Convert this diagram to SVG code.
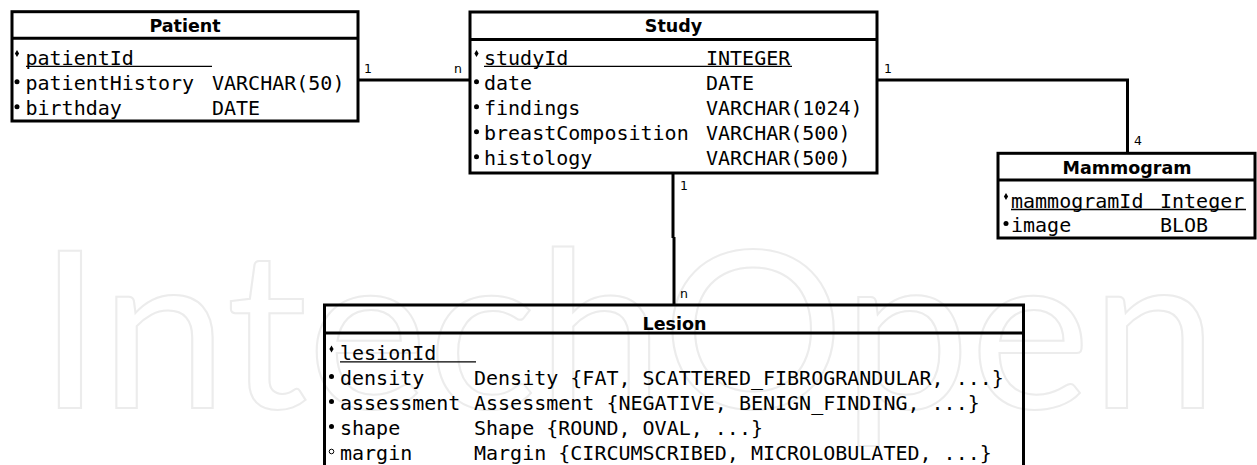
<svg xmlns="http://www.w3.org/2000/svg" xmlns:xlink="http://www.w3.org/1999/xlink" width="1257" height="465" viewBox="0 0 1257 465">
<style>
.box{fill:none;stroke:#000;stroke-width:3}
.sep{stroke:#000;stroke-width:3}
.hdr{font-family:"DejaVu Sans",sans-serif;font-weight:bold;font-size:17.5px;text-anchor:middle;fill:#000}
.att{font-family:"DejaVu Sans Mono",monospace;font-size:20px;fill:#000}
.ul{stroke:#000;stroke-width:1.3}
.dot{fill:#000}
.odot{fill:none;stroke:#000;stroke-width:1}
.conn{fill:none;stroke:#000;stroke-width:3}
.lbl{font-family:"DejaVu Sans",sans-serif;font-size:12.5px;fill:#000}
.wm{font-family:Lato,"DejaVu Sans",sans-serif;font-size:219px;fill:none;stroke:#ececec;stroke-width:2}
</style>
<defs>
<path id="dia" d="M0,-3.4 L2.1,0 L0,3.4 L-2.1,0Z" fill="#000"/>
</defs>
<rect width="1257" height="465" fill="#fff"/>
<text class="wm" x="38" y="408" textLength="1180" lengthAdjust="spacingAndGlyphs">IntechOpen</text>

<g id="connectors">
<path class="conn" d="M358,80 H470"/>
<path class="conn" d="M877,80 H1127.5 V153"/>
<path class="conn" d="M673,173 V238"/>
<path class="conn" d="M674,237 V305"/>
<text class="lbl" x="364" y="73">1</text>
<text class="lbl" x="454" y="73">n</text>
<text class="lbl" x="884" y="73">1</text>
<text class="lbl" x="1134" y="145">4</text>
<text class="lbl" x="680" y="190">1</text>
<text class="lbl" x="680" y="298">n</text>
</g>

<g id="patient">
<rect class="box" x="12" y="11.7" width="346" height="109.3"/>
<line class="sep" x1="12" y1="38.3" x2="358" y2="38.3"/>
<text class="hdr" x="185" y="32">Patient</text>
<use xlink:href="#dia" x="17" y="53.5"/>
<text class="att" x="25.5" y="64.5">patientId</text>
<line class="ul" x1="26" y1="66.3" x2="212" y2="66.3"/>
<circle class="dot" cx="17" cy="81.7" r="2.5"/>
<text class="att" x="25.5" y="90">patientHistory</text>
<text class="att" x="212" y="90">VARCHAR(50)</text>
<circle class="dot" cx="17" cy="106.7" r="2.5"/>
<text class="att" x="25.5" y="115">birthday</text>
<text class="att" x="212" y="115">DATE</text>
</g>

<g id="study">
<rect class="box" x="470" y="12" width="407" height="161"/>
<line class="sep" x1="470" y1="39.5" x2="877" y2="39.5"/>
<text class="hdr" x="673.5" y="32">Study</text>
<use xlink:href="#dia" x="476.5" y="53.5"/>
<text class="att" x="484" y="64.5">studyId</text>
<text class="att" x="706" y="64.5">INTEGER</text>
<line class="ul" x1="484" y1="66.3" x2="792" y2="66.3"/>
<circle class="dot" cx="476.5" cy="81.7" r="2.5"/>
<text class="att" x="484" y="90">date</text>
<text class="att" x="706" y="90">DATE</text>
<circle class="dot" cx="476.5" cy="106.7" r="2.5"/>
<text class="att" x="484" y="115">findings</text>
<text class="att" x="706" y="115">VARCHAR(1024)</text>
<circle class="dot" cx="476.5" cy="131.7" r="2.5"/>
<text class="att" x="484" y="140">breastComposition</text>
<text class="att" x="706" y="140">VARCHAR(500)</text>
<circle class="dot" cx="476.5" cy="156.7" r="2.5"/>
<text class="att" x="484" y="165">histology</text>
<text class="att" x="706" y="165">VARCHAR(500)</text>
</g>

<g id="mammogram">
<rect class="box" x="998" y="153.3" width="257" height="84.7"/>
<line class="sep" x1="998" y1="180" x2="1255" y2="180"/>
<text class="hdr" x="1127" y="174">Mammogram</text>
<use xlink:href="#dia" x="1006" y="196.5"/>
<text class="att" x="1011" y="207.5">mammogramId</text>
<text class="att" x="1160" y="207.5">Integer</text>
<line class="ul" x1="1011" y1="209.5" x2="1246" y2="209.5"/>
<circle class="dot" cx="1006" cy="223.5" r="2.5"/>
<text class="att" x="1011" y="232">image</text>
<text class="att" x="1160" y="232">BLOB</text>
</g>

<g id="lesion">
<rect class="box" x="324.5" y="305" width="699" height="200"/>
<line class="sep" x1="324.5" y1="333" x2="1023.5" y2="333"/>
<text class="hdr" x="674.5" y="330">Lesion</text>
<use xlink:href="#dia" x="331.5" y="349"/>
<text class="att" x="340" y="360">lesionId</text>
<line class="ul" x1="340" y1="361.8" x2="476" y2="361.8"/>
<circle class="dot" cx="331.5" cy="376.5" r="2.5"/>
<text class="att" x="340" y="385">density</text>
<text class="att" x="474" y="385">Density {FAT, SCATTERED_FIBROGRANDULAR, ...}</text>
<circle class="dot" cx="331.5" cy="401.5" r="2.5"/>
<text class="att" x="340" y="410">assessment</text>
<text class="att" x="474" y="410">Assessment {NEGATIVE, BENIGN_FINDING, ...}</text>
<circle class="dot" cx="331.5" cy="426.5" r="2.5"/>
<text class="att" x="340" y="435">shape</text>
<text class="att" x="474" y="435">Shape {ROUND, OVAL, ...}</text>
<circle class="odot" cx="331.5" cy="451.5" r="2.3"/>
<text class="att" x="340" y="460">margin</text>
<text class="att" x="474" y="460">Margin {CIRCUMSCRIBED, MICROLOBULATED, ...}</text>
</g>
</svg>
